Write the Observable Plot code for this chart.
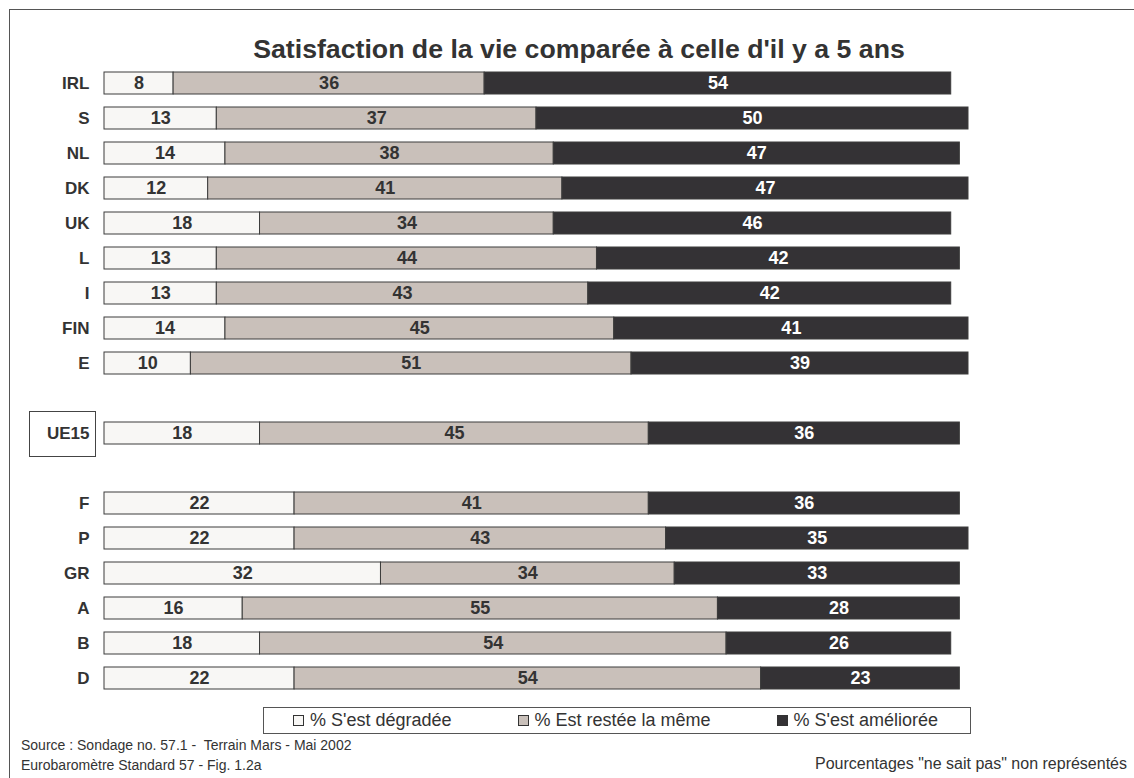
<!DOCTYPE html>
<html><head><meta charset="utf-8">
<script src="https://cdn.jsdelivr.net/npm/d3@7"></script>
<script src="https://cdn.jsdelivr.net/npm/@observablehq/plot@0.6"></script>
<style>
html,body{margin:0;padding:0;background:#fff;width:1134px;height:778px;overflow:hidden;font-family:Arial,"Liberation Sans",sans-serif;color:#333}
#frame{position:absolute;left:9px;top:9px;width:1200px;height:800px;border:1px solid #555;box-sizing:border-box}
#title{position:absolute;left:0;width:1158px;text-align:center;top:36px;font-size:26.7px;font-weight:bold;line-height:27px;white-space:nowrap;color:#333}
#chart{position:absolute;left:0;top:59px}
#ue15box{position:absolute;left:29px;width:67px;height:46px;border:1px solid #444;box-sizing:border-box;background:#fff}
#legend{position:absolute;left:263px;top:707px;width:708px;height:27px;border:1px solid #555;box-sizing:border-box;background:#fff;display:flex;align-items:center;padding-left:29px;gap:66px;font-size:18px;line-height:25px;white-space:nowrap}
.item{display:flex;align-items:center}
.sw{display:inline-block;width:11px;height:11px;border:1px solid #333;box-sizing:border-box;margin-right:6px}
.foot{position:absolute;font-size:14px;line-height:20px;white-space:nowrap;color:#333}
</style></head>
<body>
<div id="frame"></div>
<div id="title">Satisfaction de la vie comparée à celle d'il y a 5 ans</div>
<div id="ue15box"></div>
<div id="chart"></div>
<div id="legend"></div>
<div class="foot" style="left:21px;top:735px">Source : Sondage no. 57.1 -&nbsp; Terrain Mars - Mai 2002</div>
<div class="foot" style="left:21px;top:755px">Eurobaromètre Standard 57 - Fig. 1.2a</div>
<div class="foot" style="left:815px;top:754px;font-size:16px">Pourcentages "ne sait pas" non représentés</div>
<script>
const countries = ["IRL","S","NL","DK","UK","L","I","FIN","E","UE15","F","P","GR","A","B","D"];
const degraded  = [8,13,14,12,18,13,13,14,10,18,22,22,32,16,18,22];
const same      = [36,37,38,41,34,44,43,45,51,45,41,43,34,55,54,54];
const improved  = [54,50,47,47,46,42,42,41,39,36,36,35,33,28,26,23];
const categories = ["% S'est dégradée","% Est restée la même","% S'est améliorée"];
const colors = ["#f8f7f5","#c9c0ba","#343235"];
const gapAfter = ["E","UE15"];

const yDomain = [];
countries.forEach(c => { yDomain.push(c); if (gapAfter.includes(c)) yDomain.push(" ".repeat(yDomain.length)); });

const rows = countries.flatMap((c, i) => [
  {country: c, cat: categories[0], value: degraded[i]},
  {country: c, cat: categories[1], value: same[i]},
  {country: c, cat: categories[2], value: improved[i]}
]);

const font = "Arial, 'Liberation Sans', sans-serif";
const chart = Plot.plot({
  width: 1134, height: 644,
  marginTop: 0, marginBottom: 0, marginLeft: 104, marginRight: 166,
  x: {domain: [0, 100], axis: null},
  y: {domain: yDomain, padding: 0.37, axis: null, label: null},
  color: {domain: categories, range: colors},
  style: {background: "transparent", fontFamily: font, overflow: "visible"},
  marks: [
    Plot.barX(rows, Plot.stackX({x: "value", y: "country", z: "cat", fill: "cat", stroke: "#3c3c3c", strokeWidth: 1})),
    Plot.text(rows, Plot.stackX({x: "value", y: "country", z: "cat",
      text: d => d.cat === categories[2] ? "" : String(d.value),
      fill: "#333", fontSize: 18, fontWeight: "bold"})),
    Plot.text(rows, Plot.stackX({x: "value", y: "country", z: "cat",
      text: d => d.cat === categories[2] ? String(d.value) : "",
      fill: "#ffffff", fontSize: 18, fontWeight: "bold"})),
    Plot.axisY({tickSize: 0, tickPadding: 15, fontSize: 17, fontWeight: "bold", color: "#333", label: null,
      tickFormat: d => d.trim() === "" ? "" : d})
  ]
});
document.getElementById("chart").appendChild(chart);

const ys = chart.scale("y");
const yc = ys.apply("UE15") + ys.bandwidth / 2;
document.getElementById("ue15box").style.top = (59 + yc - 22) + "px";

const legend = document.getElementById("legend");
categories.forEach((c, i) => {
  const it = document.createElement("div");
  it.className = "item";
  const sw = document.createElement("span");
  sw.className = "sw";
  sw.style.background = colors[i];
  it.appendChild(sw);
  const t = document.createElement("span");
  t.textContent = c;
  it.appendChild(t);
  legend.appendChild(it);
});
</script>
</body></html>
